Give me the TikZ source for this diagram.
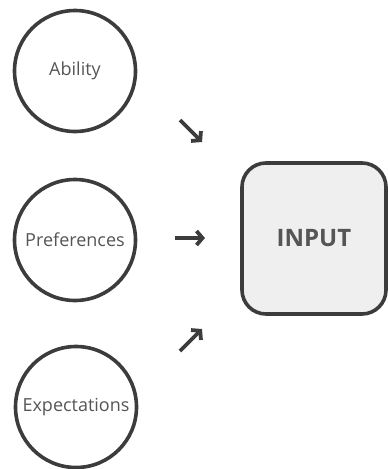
\documentclass[tikz,border=0pt]{standalone}
\usepackage{fontspec}
\setmainfont{Open Sans}
\usetikzlibrary{arrows.meta}
\definecolor{ink}{HTML}{3C3C3C}
\definecolor{txt}{HTML}{555555}
\definecolor{boxfill}{HTML}{EFEFEF}
\tikzset{
  factor/.style={circle, draw=ink, line width=3.6pt, minimum size=121pt, inner sep=0pt,
    text=txt, font=\fontsize{18}{21}\selectfont},
  inbox/.style={draw=ink, fill=boxfill, line width=3.6pt, rounded corners=24pt,
    minimum width=144pt, minimum height=151pt, text=txt, font=\bfseries\fontsize{24}{28}\selectfont},
  hint/.style={draw=ink, line width=3.8pt, -{Straight Barb[length=6pt, width=14pt, line width=3.8pt]}}
}
\begin{document}
\begin{tikzpicture}[x=1pt, y=-1pt]
  \useasboundingbox (0,0) rectangle (388,469);
  \node[factor] (ability) at (75,71) {Ability};
  \node[factor] (pref) at (75,240) {Preferences};
  \node[factor] (expect) at (76,407) {Expectations};
  \node[inbox] (input) at (314,238.5) {INPUT};
  % small direction marks between the factors and the input box
  \coordinate (a1) at (180,120);
  \coordinate (a2) at (202,142);
  \coordinate (b1) at (175,238);
  \coordinate (b2) at (205,238);
  \coordinate (c1) at (180,351);
  \coordinate (c2) at (202,329);
  \draw[hint] (a1) -- (a2);
  \draw[hint] (b1) -- (b2);
  \draw[hint] (c1) -- (c2);
\end{tikzpicture}
\end{document}
